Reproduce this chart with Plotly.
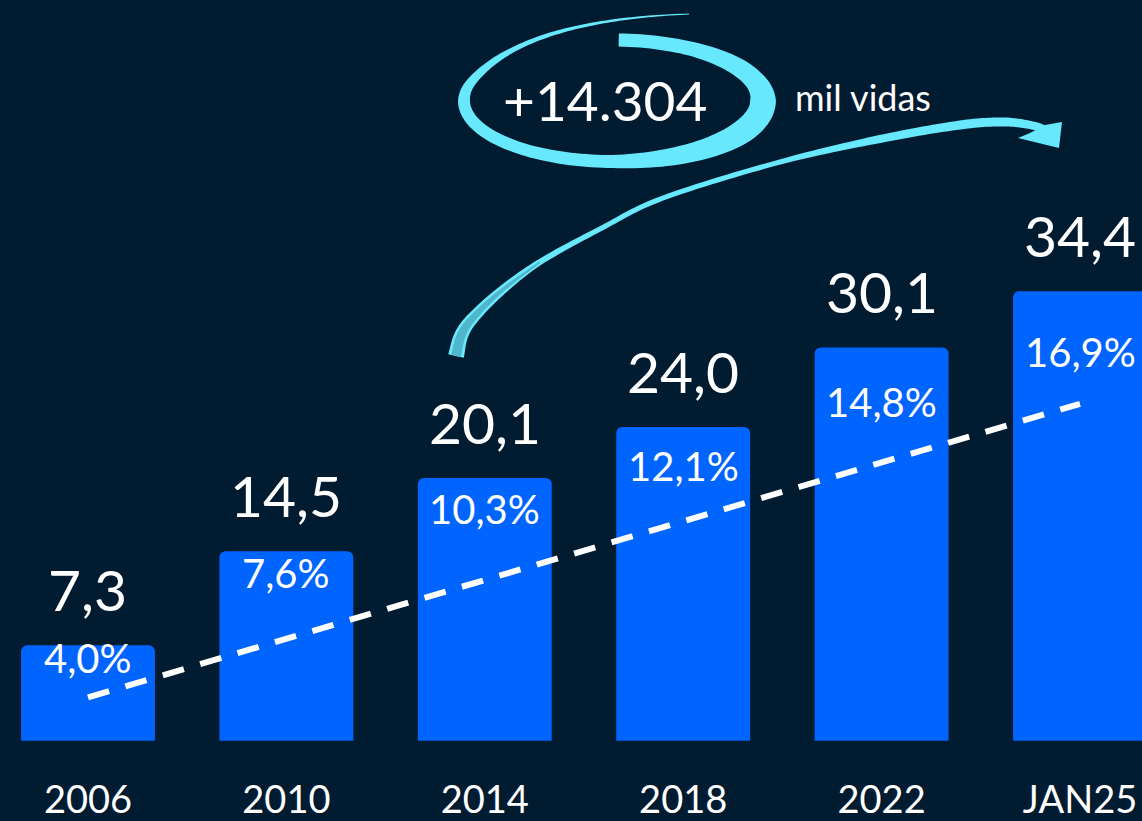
import numpy as np
import plotly.graph_objects as go

# ---------------- data ----------------
categorias = ["2006", "2010", "2014", "2018", "2022", "JAN25"]
vidas = [7.3, 14.5, 20.1, 24.0, 30.1, 34.4]          # milhões de vidas
vidas_txt = ["7,3", "14,5", "20,1", "24,0", "30,1", "34,4"]
participacao = [4.0, 7.6, 10.3, 12.1, 14.8, 16.9]    # %
participacao_txt = ["4,0%", "7,6%", "10,3%", "12,1%", "14,8%", "16,9%"]
tendencia_x = ["2006", "JAN25"]
tendencia = [2.2, 14.6]
destaque = "+14.304"
destaque_unidade = "mil vidas"

# ---------------- style ----------------
W, H = 1142, 821
BOTTOM = 746
BG = "#011b30"
BAR = "#0064ff"
CYAN = "#67e8fc"
CYAN_DARK = "#4fb6cb"
FONT = "Lato"


def P(x, y):
    return x / W, (BOTTOM - y) / BOTTOM


def to_path(poly):
    pts = [P(x, y) for x, y in poly]
    return "M " + " L ".join(f"{a:.5f},{b:.5f}" for a, b in pts) + " Z"


def brush(xs, ys, ws):
    xs, ys, ws = map(np.asarray, (xs, ys, ws))
    tx = np.gradient(xs)
    ty = np.gradient(ys)
    n = np.hypot(tx, ty)
    tx, ty = tx / n, ty / n
    nx, ny = -ty, tx
    left = list(zip(xs + nx * ws / 2, ys + ny * ws / 2))
    right = list(zip(xs - nx * ws / 2, ys - ny * ws / 2))
    return left + right[::-1]


def catmull(pts, ws, k=16):
    pts = np.asarray(pts, float)
    ext = np.vstack([pts[0] * 2 - pts[1], pts, pts[-1] * 2 - pts[-2]])
    out, wout = [], []
    for i in range(1, len(ext) - 2):
        p0, p1, p2, p3 = ext[i - 1], ext[i], ext[i + 1], ext[i + 2]
        for t in np.linspace(0, 1, k, endpoint=False):
            t2, t3 = t * t, t * t * t
            q = 0.5 * ((2 * p1) + (-p0 + p2) * t + (2 * p0 - 5 * p1 + 4 * p2 - p3) * t2
                       + (-p0 + 3 * p1 - 3 * p2 + p3) * t3)
            out.append(q)
            wout.append(ws[i - 1] + (ws[i] - ws[i - 1]) * t)
    out.append(pts[-1])
    wout.append(ws[-1])
    out = np.array(out)
    return out[:, 0], out[:, 1], np.array(wout)


# ring around the highlight number
deg = np.linspace(-88, 200, 140)
th = np.radians(deg)
cx, cy, rx, ry = 613.5, 100.75, 149.5, 60.75
ex = cx + rx * np.cos(th)
ey = cy + ry * np.sin(th)
ew = np.interp(deg, [-88, -60, -20, 0, 30, 70, 90, 130, 180, 200],
               [13, 14, 20, 26, 24, 17, 13, 12, 12, 9])
t = np.linspace(0, 1, 70)[1:]
P0 = np.array([ex[-1], ey[-1]])
P1 = np.array([526.0, 20.0])
P2 = np.array([689.0, 14.0])
bx = (1 - t) ** 2 * P0[0] + 2 * (1 - t) * t * P1[0] + t ** 2 * P2[0]
by = (1 - t) ** 2 * P0[1] + 2 * (1 - t) * t * P1[1] + t ** 2 * P2[1]
bw = np.interp(t, [0, 0.3, 1], [9, 5, 1])
ring_poly = brush(np.r_[ex, bx], np.r_[ey, by], np.r_[ew, bw])

# arrow
arrow_pts = [(456, 356), (461, 336), (472, 319), (500, 292), (540, 262), (600, 229),
             (663, 198), (780, 162), (880, 139), (960, 125), (1005, 122), (1035, 126),
             (1050, 131)]
arrow_w = [16, 14, 12, 9, 6, 5, 5, 5, 8, 9, 9, 8, 6]
ax_, ay_, aw_ = catmull(arrow_pts, arrow_w)
arrow_poly = brush(ax_, ay_, aw_)
inner_pts = arrow_pts[:5]
inner_w = [10, 9, 7, 4, 1.5]
ix_, iy_, iw_ = catmull(inner_pts, inner_w)
inner_poly = brush(ix_, iy_, iw_)
head_poly = [(1045, 125), (1062, 122), (1059, 148), (1018, 138), (1030, 133)]

fig = go.Figure()

fig.add_trace(go.Bar(
    x=categorias, y=vidas, width=0.675,
    marker=dict(color=BAR, line=dict(width=0), cornerradius=6),
    hoverinfo="skip", showlegend=False,
))

fig.add_trace(go.Scatter(
    x=tendencia_x, y=tendencia, yaxis="y2", mode="lines",
    line=dict(color="white", width=6, dash="22px,17px"),
    hoverinfo="skip", showlegend=False,
))

annotations = []
for i, (v, s) in enumerate(zip(vidas, vidas_txt)):
    annotations.append(dict(x=i, y=v, xref="x", yref="y", text=s, showarrow=False,
                            yanchor="middle", yshift=56,
                            font=dict(family=FONT, size=57, color="white")))
for i, (p, s) in enumerate(zip(participacao, participacao_txt)):
    annotations.append(dict(x=i, y=p, xref="x", yref="y2", text=s, showarrow=False,
                            yanchor="middle", yshift=-3,
                            font=dict(family=FONT, size=40, color="white")))
hx, hy = P(605, 100)
annotations.append(dict(x=hx, y=hy, xref="paper", yref="paper", text=destaque,
                        showarrow=False, xanchor="center", yanchor="middle",
                        font=dict(family=FONT, size=55, color="white")))
mx, my = P(863, 97)
annotations.append(dict(x=mx, y=my, xref="paper", yref="paper", text=destaque_unidade,
                        showarrow=False, xanchor="center", yanchor="middle",
                        font=dict(family=FONT, size=36, color="white")))

shapes = [
    dict(type="path", xref="paper", yref="paper", path=to_path(ring_poly),
         fillcolor=CYAN, line=dict(width=0), layer="above"),
    dict(type="path", xref="paper", yref="paper", path=to_path(arrow_poly),
         fillcolor=CYAN, line=dict(width=0), layer="above"),
    dict(type="path", xref="paper", yref="paper", path=to_path(inner_poly),
         fillcolor=CYAN_DARK, line=dict(width=0), layer="above"),
    dict(type="path", xref="paper", yref="paper", path=to_path(head_poly),
         fillcolor=CYAN, line=dict(width=0), layer="above"),
]

fig.update_layout(
    width=W, height=H,
    margin=dict(l=0, r=0, t=0, b=H - BOTTOM, autoexpand=False),
    paper_bgcolor=BG, plot_bgcolor=BG,
    font=dict(family=FONT, color="white"),
    showlegend=False,
    xaxis=dict(type="category", range=[-0.4435, 5.3125], showgrid=False,
               zeroline=False, showline=False, ticks="", ticklabelstandoff=28,
               automargin=False,
               tickfont=dict(family=FONT, size=38, color="white"), fixedrange=True),
    yaxis=dict(range=[-0.4, 56.68], visible=False, fixedrange=True, automargin=False),
    yaxis2=dict(range=[0.15, 31.65], overlaying="y", visible=False, fixedrange=True,
                automargin=False),
    annotations=annotations,
    shapes=shapes,
)

fig.write_html(
    "out.html",
    config={"displayModeBar": False},
    post_script="document.body.style.margin='0';document.body.style.background='%s';" % BG,
)
